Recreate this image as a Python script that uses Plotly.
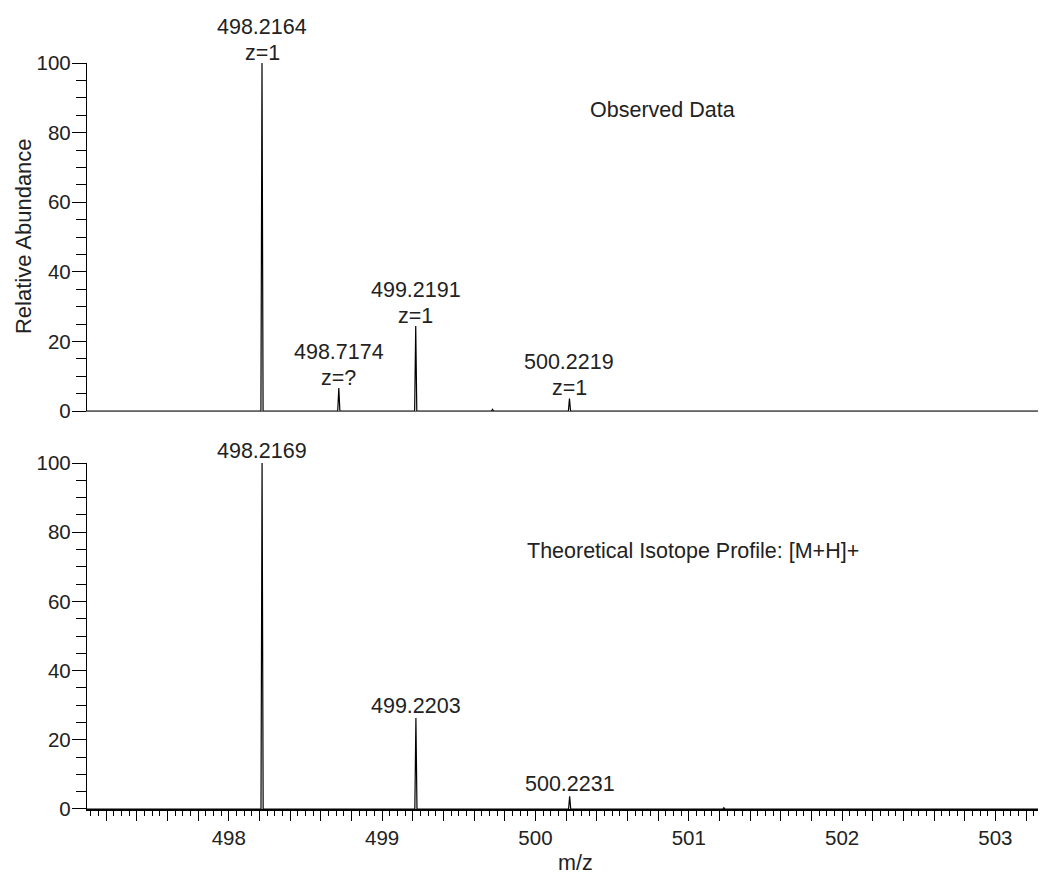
import plotly.graph_objects as go

# ---- data ----
x_min, x_max = 497.075, 503.33

obs_mz = [498.2164, 498.7174, 499.2191, 499.72, 500.2219]
obs_int = [100.0, 6.6, 24.4, 0.5, 3.6]
obs_mass_labels = ["498.2164", "498.7174", "499.2191", "", "500.2219"]
obs_z_labels = ["z=1", "z=?", "z=1", "", "z=1"]

theo_mz = [498.2169, 499.2203, 500.2231, 501.229]
theo_int = [100.0, 26.3, 3.7, 0.4]
theo_labels = ["498.2169", "499.2203", "500.2231", ""]

x_major = [498, 499, 500, 501, 502, 503]

FONT = "Liberation Sans, Arial, Helvetica, sans-serif"
TXT = "#222222"
HW = 0.007  # half width of each stick peak
AF = 21.5   # annotation font size
TF = 20.5   # tick font size


def stick_profile(mz, inten):
    xs, ys = [x_min], [0.0]
    for c, h in zip(mz, inten):
        xs += [c - HW, c, c + HW]
        ys += [0.0, h, 0.0]
    xs.append(x_max)
    ys.append(0.0)
    return xs, ys


fig = go.Figure()
ox, oy = stick_profile(obs_mz, obs_int)
tx, ty = stick_profile(theo_mz, theo_int)
fig.add_trace(go.Scatter(x=ox, y=oy, mode="lines", line=dict(color="black", width=1.2),
                         xaxis="x", yaxis="y", hoverinfo="skip", showlegend=False))
fig.add_trace(go.Scatter(x=tx, y=ty, mode="lines", line=dict(color="black", width=1.2),
                         xaxis="x2", yaxis="y2", hoverinfo="skip", showlegend=False))

afont = dict(size=AF, color=TXT, family=FONT)
annots = []
for c, h, m, z in zip(obs_mz, obs_int, obs_mass_labels, obs_z_labels):
    if z:
        annots.append(dict(x=c, y=h, xref="x", yref="y", text=z, showarrow=False,
                           yanchor="bottom", xanchor="center", yshift=-3.5, font=afont))
    if m:
        annots.append(dict(x=c, y=h, xref="x", yref="y", text=m, showarrow=False,
                           yanchor="bottom", xanchor="center", yshift=22.5, font=afont))
for c, h, t in zip(theo_mz, theo_int, theo_labels):
    if t:
        annots.append(dict(x=c, y=h, xref="x2", yref="y2", text=t, showarrow=False,
                           yanchor="bottom", xanchor="center", yshift=-1.5, font=afont))
annots.append(dict(x=500.34, y=86.5, xref="x", yref="y", text="Observed Data", showarrow=False,
                   xanchor="left", yanchor="middle", font=afont))
annots.append(dict(x=499.93, y=74.5, xref="x2", yref="y2", text="Theoretical Isotope Profile: [M+H]+",
                   showarrow=False, xanchor="left", yanchor="middle", font=afont))
annots.append(dict(x=0.509, y=-0.073, xref="paper", yref="paper", text="m/z", showarrow=False,
                   xanchor="center", yanchor="middle", font=afont))
annots.append(dict(x=-0.0667, y=0.768, xref="paper", yref="paper", text="Relative Abundance",
                   showarrow=False, textangle=-90, xanchor="center", yanchor="middle",
                   font=dict(size=22, color=TXT, family=FONT)))

tickvals = [round(497.2 + 0.2 * i, 1) for i in range(32)]
ticktext = [str(int(round(v))) if abs(v - round(v)) < 1e-6 and int(round(v)) in x_major else ""
            for v in tickvals]

yax_common = dict(range=[0, 100], tickvals=[0, 20, 40, 60, 80, 100], ticks="outside", ticklen=14,
                  tickwidth=1.2, tickcolor="black", showline=True, linecolor="black", linewidth=1.3,
                  showgrid=False, zeroline=False, ticklabelstandoff=-3,
                  tickfont=dict(size=TF, color=TXT, family=FONT),
                  minor=dict(dtick=5, ticks="outside", ticklen=10, tickcolor="black", tickwidth=1.2,
                             showgrid=False))

fig.update_layout(
    width=1038, height=866,
    margin=dict(l=79, r=0, t=55, b=65),
    paper_bgcolor="white", plot_bgcolor="white",
    font=dict(family=FONT, color=TXT, size=20),
    xaxis=dict(domain=[0, 1], anchor="y", range=[x_min, x_max], showticklabels=False, ticks="",
               showline=True, linecolor="#666666", linewidth=1, showgrid=False, zeroline=False,
               matches="x2"),
    yaxis=dict(domain=[0.5335, 1], anchor="x", **yax_common),
    xaxis2=dict(domain=[0, 1], anchor="y2", range=[x_min, x_max], tickvals=tickvals, ticktext=ticktext,
                ticks="outside", ticklen=10, tickwidth=1.2, tickcolor="black",
                showline=True, linecolor="black", linewidth=1.5, showgrid=False, zeroline=False,
                tickfont=dict(size=TF, color=TXT, family=FONT),
                minor=dict(dtick=0.05, tick0=497.0, ticks="outside", ticklen=5, tickcolor="black",
                           tickwidth=1, showgrid=False)),
    xaxis3=dict(overlaying="x2", anchor="y2", range=[x_min, x_max], tickvals=x_major,
                ticktext=["" for _ in x_major], ticks="outside", ticklen=13, tickwidth=1.2,
                tickcolor="black", showline=False, showgrid=False, zeroline=False, side="bottom"),
    yaxis2=dict(domain=[0, 0.4638], anchor="x2", **yax_common),
    annotations=annots,
)

fig.write_html("out.html")
